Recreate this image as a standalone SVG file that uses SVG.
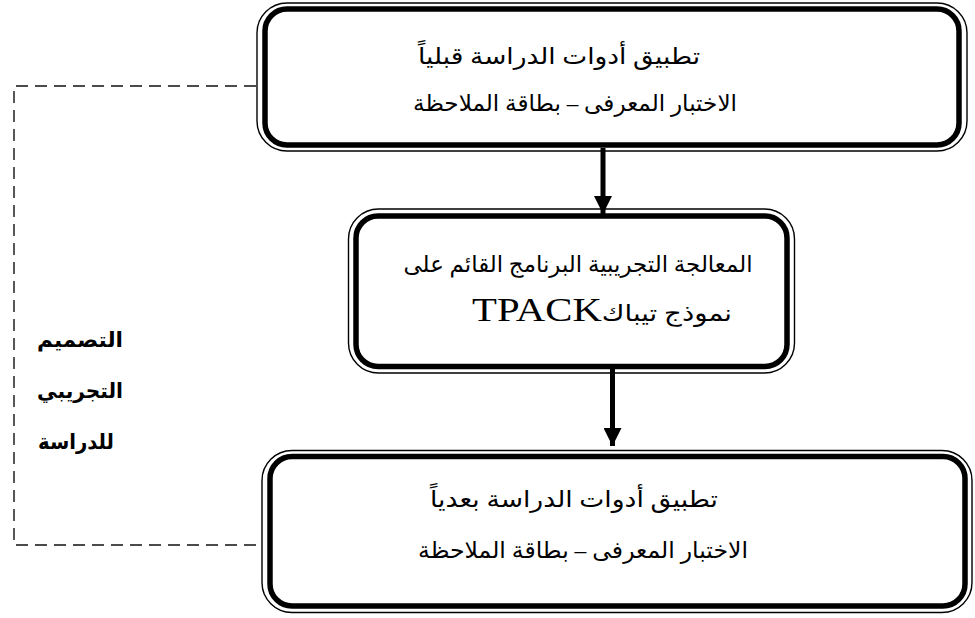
<svg xmlns="http://www.w3.org/2000/svg" width="975" height="618" viewBox="0 0 975 618">
<defs>
<style>
.thick{fill:none;stroke:#000;stroke-width:5.5}
.thin{fill:none;stroke:#000;stroke-width:1.4}
.ar{font-family:'Liberation Serif','DejaVu Sans',serif;font-size:23px;fill:#000;direction:rtl;text-anchor:middle}
.lbl{font-family:'DejaVu Sans',sans-serif;font-size:21px;font-weight:bold;fill:#000;direction:rtl;text-anchor:middle}
.conn{stroke:#000;stroke-width:5;fill:none}
.dash{stroke:#111;stroke-width:1.4;fill:none;stroke-dasharray:12 7}
</style>
<marker id="ah" markerUnits="userSpaceOnUse" markerWidth="20" markerHeight="18" refX="18" refY="9" orient="auto">
<path d="M0,0 L18,9 L0,18 Z" fill="#000"/>
</marker>
</defs>
<rect width="975" height="618" fill="#fff"/>
<g id="connectors">
<path class="dash" d="M256,86 H14 V545 H262"/>
<line class="conn" x1="603" y1="148" x2="603" y2="214" marker-end="url(#ah)"/>
<line class="conn" x1="612.5" y1="369" x2="612.5" y2="446" marker-end="url(#ah)"/>
</g>
<g id="box1">
<rect class="thin" x="257" y="3" width="710" height="148" rx="30"/>
<rect class="thick" x="265" y="9" width="694" height="136" rx="22"/>
<text class="ar" x="559" y="64" textLength="282" lengthAdjust="spacingAndGlyphs">تطبيق أدوات الدراسة قبلياً</text>
<text class="ar" x="575" y="111" textLength="324" lengthAdjust="spacingAndGlyphs">الاختبار المعرفى – بطاقة الملاحظة</text>
</g>
<g id="box2">
<rect class="thin" x="348.5" y="209" width="446" height="164" rx="30"/>
<rect class="thick" x="356" y="216" width="431" height="150.5" rx="22"/>
<text class="ar" x="578" y="272" textLength="349" lengthAdjust="spacingAndGlyphs">المعالجة التجريبية البرنامج القائم على</text>
<text class="ar" x="602" y="321" textLength="260" lengthAdjust="spacingAndGlyphs">نموذج تيباك<tspan font-family="'Liberation Serif',serif" font-size="34">TPACK</tspan></text>
</g>
<g id="box3">
<rect class="thin" x="262" y="450.5" width="710" height="162" rx="30"/>
<rect class="thick" x="270" y="456.5" width="695" height="149.5" rx="22"/>
<text class="ar" x="574" y="507" textLength="288" lengthAdjust="spacingAndGlyphs">تطبيق أدوات الدراسة بعدياً</text>
<text class="ar" x="583" y="558" textLength="330" lengthAdjust="spacingAndGlyphs">الاختبار المعرفى – بطاقة الملاحظة</text>
</g>
<g id="label">
<text class="lbl" x="80" y="347" textLength="86" lengthAdjust="spacingAndGlyphs">التصميم</text>
<text class="lbl" x="80" y="398" textLength="86" lengthAdjust="spacingAndGlyphs">التجريبي</text>
<text class="lbl" x="76" y="449" textLength="76" lengthAdjust="spacingAndGlyphs">للدراسة</text>
</g>
</svg>
